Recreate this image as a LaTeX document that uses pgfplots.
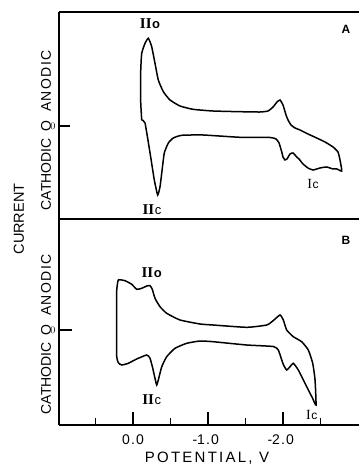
\documentclass[border=0pt]{standalone}
\usepackage{fontspec}
\setmainfont{Liberation Sans}
\newfontfamily\rom{Liberation Serif}
\usepackage{pgfplots}
\usepackage{pgfplotstable}
\pgfplotsset{compat=1.18}

\pgfplotstableread{
V I
-0.116 6
-0.103 23
-0.103 45
-0.103 56
-0.116 72.7
-0.160 82.7
-0.204 87.7
-0.249 79.3
-0.293 62.7
-0.337 46
-0.404 34.3
-0.493 26
-0.627 20
-0.800 16.7
-1.067 15
-1.427 14.3
-1.693 14
-1.800 15
-1.867 19
-1.920 24
-1.960 26
-2.000 21
-2.040 11
-2.067 6
-2.107 1
-2.160 -2
-2.227 -4
-2.333 -8
-2.449 -12
-2.560 -16
-2.667 -21
-2.733 -26
-2.760 -34
-2.783 -45
-2.720 -43
-2.667 -43
-2.583 -41
-2.493 -42
-2.400 -44
-2.333 -42
-2.267 -38
-2.213 -33
-2.183 -31
-2.133 -27
-2.093 -28
-2.053 -33
-2.027 -34
-2.000 -31
-1.983 -26
-1.947 -17
-1.907 -13
-1.827 -11.5
-1.427 -11.3
-0.933 -9
-0.649 -9.3
-0.537 -12
-0.471 -17
-0.417 -27
-0.383 -47
-0.360 -60.7
-0.329 -69
-0.284 -54
-0.227 -27
-0.160 3
-0.116 6
}\dataA

\pgfplotstableread{
V I
0.217 30
0.217 40
0.196 50
0.107 49.3
0.017 45.7
-0.049 40.7
-0.116 41.7
-0.183 44
-0.227 44.3
-0.257 40.7
-0.293 31.7
-0.360 23.3
-0.449 16.7
-0.627 10
-0.893 6
-1.067 5
-1.516 2.7
-1.783 5
-1.871 9.5
-1.960 15
-2.004 10
-2.049 0
-2.137 -6.7
-2.249 -11.7
-2.337 -20
-2.396 -33.3
-2.427 -50
-2.440 -75
-2.393 -68
-2.360 -63.3
-2.293 -53.3
-2.204 -40
-2.137 -33.3
-2.093 -36.7
-2.049 -40
-2.007 -35
-1.983 -30
-1.937 -20
-1.871 -16.5
-1.516 -15
-1.067 -11.7
-0.893 -11
-0.716 -13.3
-0.560 -18.3
-0.449 -26.7
-0.383 -36.7
-0.343 -48.3
-0.316 -55
-0.293 -48.3
-0.263 -38.3
-0.227 -28.3
-0.183 -25
-0.049 -29
0.063 -33.3
0.151 -35
0.196 -32.7
0.217 -26.7
0.217 0
0.217 30
}\dataB

\pgfplotsset{cvstyle/.style={
  scale only axis, width=300pt,
  x dir=reverse, xmin=-3.013, xmax=0.987,
  axis x line*=box, axis y line*=left,
  axis line style={line width=1.4pt, black},
  tick style={line width=1.3pt, black},
  tick align=inside,
  ytick={0}, yticklabel={},
  clip=false,
}}

\begin{document}
\begin{tikzpicture}[x=1pt,y=1pt]
\useasboundingbox (-59,-247) rectangle (300,219);
\begin{axis}[cvstyle, at={(0,0)}, anchor=south west, height=207pt,
  ymin=-93, ymax=114, xtick=\empty, major tick length=11pt]
\addplot[line width=1.5pt, smooth, tension=0.3] table[x=V,y=I] {\dataA};
\node[font=\fontsize{15}{15}\selectfont] at (axis cs:-0.227,102) {{\rom\bfseries II}\kern0.5pt{\fontsize{13}{13}\selectfont\bfseries o}};
\node[font=\fontsize{15}{15}\selectfont] at (axis cs:-0.253,-84) {{\rom\bfseries II}\kern0.5pt{\fontsize{13}{13}\selectfont c}};
\node[font=\fontsize{14}{14}\selectfont] at (axis cs:-2.40,-58) {{\rom I}\kern0.5pt{\fontsize{12}{12}\selectfont c}};
\node[font=\bfseries\fontsize{12}{12}\selectfont] at (axis cs:-2.84,97) {A};
\end{axis}
\begin{axis}[cvstyle, at={(0,0)}, anchor=north west, height=206pt,
  ymin=-95, ymax=111,
  xtick={-2,-1,0}, xticklabels={{\llap{-}2.0},{\llap{-}1.0},0.0},
  minor xtick={-2.5,-1.5,-0.5,0.5},
  xtick pos=bottom,
  major tick length=13pt, minor tick length=7pt,
  xticklabel style={anchor=base, yshift=-19pt, font=\fontsize{14}{14}\selectfont\addfontfeatures{LetterSpace=8}}]
\addplot[line width=1.5pt, smooth, tension=0.3] table[x=V,y=I] {\dataB};
\node[font=\fontsize{15}{15}\selectfont] at (axis cs:-0.249,57) {{\rom\bfseries II}\kern0.5pt{\fontsize{13}{13}\selectfont\bfseries o}};
\node[font=\fontsize{15}{15}\selectfont] at (axis cs:-0.249,-70) {{\rom\bfseries II}\kern0.5pt{\fontsize{13}{13}\selectfont c}};
\node[font=\fontsize{14}{14}\selectfont] at (axis cs:-2.383,-85) {{\rom I}\kern0.5pt{\fontsize{12}{12}\selectfont c}};
\node[font=\bfseries\fontsize{12}{12}\selectfont] at (axis cs:-2.84,90) {B};
\end{axis}
\node[rotate=90, font=\fontsize{14.5}{14.5}\selectfont] at (-40,0) {CURRENT};
\foreach \z in {93,-111} {
  \node[rotate=90, font=\fontsize{14}{14}\selectfont, inner sep=0] at (-13,\z) {O};
  \node[rotate=90, anchor=west, inner sep=0, font=\fontsize{14}{14}\selectfont\addfontfeatures{LetterSpace=10}] at (-13,\z+14) {ANODIC};
  \node[rotate=90, anchor=east, inner sep=0, font=\fontsize{14}{14}\selectfont] at (-13,\z-12) {CATHODIC};
}
\node[anchor=base, font=\fontsize{15}{15}\selectfont\addfontfeatures{LetterSpace=15}] at (148,-243) {POTENTIAL, V};
\end{tikzpicture}
\end{document}
